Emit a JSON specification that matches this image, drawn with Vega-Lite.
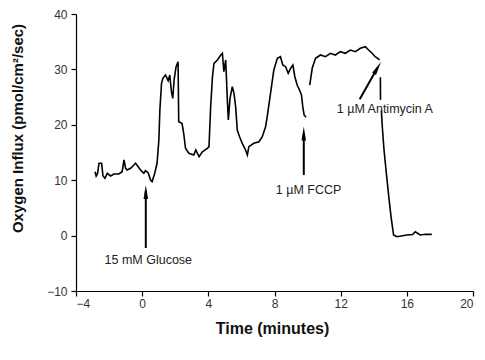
{
  "$schema": "https://vega.github.io/schema/vega-lite/v6.json",
  "width": 397,
  "height": 277,
  "autosize": {"type": "none"},
  "padding": {"left": 76, "top": 14, "right": 12, "bottom": 69},
  "background": "white",
  "config": {
    "view": {"stroke": null},
    "font": "Liberation Sans",
    "axis": {
      "grid": false,
      "domainColor": "#000",
      "domainWidth": 1.2,
      "tickColor": "#000",
      "tickWidth": 1.2,
      "tickSize": 5,
      "labelFont": "Liberation Sans",
      "labelFontSize": 12,
      "labelColor": "#333",
      "titleFont": "Liberation Sans",
      "titleFontWeight": "bold",
      "titleColor": "#111"
    }
  },
  "datasets": {
    "trace": [
      {"t": -2.85, "v": 11.53, "seg": 1},
      {"t": -2.78, "v": 10.76, "seg": 1},
      {"t": -2.70, "v": 11.2, "seg": 1},
      {"t": -2.61, "v": 13.05, "seg": 1},
      {"t": -2.45, "v": 13.05, "seg": 1},
      {"t": -2.37, "v": 10.76, "seg": 1},
      {"t": -2.25, "v": 10.34, "seg": 1},
      {"t": -2.11, "v": 11.25, "seg": 1},
      {"t": -1.91, "v": 10.76, "seg": 1},
      {"t": -1.71, "v": 11.12, "seg": 1},
      {"t": -1.41, "v": 11.12, "seg": 1},
      {"t": -1.21, "v": 11.53, "seg": 1},
      {"t": -1.10, "v": 13.65, "seg": 1},
      {"t": -1.00, "v": 12.15, "seg": 1},
      {"t": -0.91, "v": 11.84, "seg": 1},
      {"t": -0.70, "v": 12.15, "seg": 1},
      {"t": -0.50, "v": 12.74, "seg": 1},
      {"t": -0.40, "v": 13.05, "seg": 1},
      {"t": -0.24, "v": 12.44, "seg": 1},
      {"t": -0.10, "v": 11.84, "seg": 1},
      {"t": 0.10, "v": 11.25, "seg": 1},
      {"t": 0.20, "v": 11.71, "seg": 1},
      {"t": 0.36, "v": 11.35, "seg": 1},
      {"t": 0.51, "v": 10.04, "seg": 1},
      {"t": 0.60, "v": 9.73, "seg": 1},
      {"t": 0.76, "v": 11.25, "seg": 1},
      {"t": 0.90, "v": 13.05, "seg": 1},
      {"t": 1.01, "v": 17.26, "seg": 1},
      {"t": 1.07, "v": 22.67, "seg": 1},
      {"t": 1.17, "v": 27.49, "seg": 1},
      {"t": 1.25, "v": 28.39, "seg": 1},
      {"t": 1.41, "v": 28.99, "seg": 1},
      {"t": 1.57, "v": 27.96, "seg": 1},
      {"t": 1.67, "v": 28.99, "seg": 1},
      {"t": 1.77, "v": 25.97, "seg": 1},
      {"t": 1.85, "v": 24.78, "seg": 1},
      {"t": 1.93, "v": 28.09, "seg": 1},
      {"t": 2.05, "v": 30.49, "seg": 1},
      {"t": 2.17, "v": 31.39, "seg": 1},
      {"t": 2.21, "v": 20.56, "seg": 1},
      {"t": 2.41, "v": 20.27, "seg": 1},
      {"t": 2.51, "v": 18.47, "seg": 1},
      {"t": 2.62, "v": 15.76, "seg": 1},
      {"t": 2.82, "v": 14.86, "seg": 1},
      {"t": 3.12, "v": 14.55, "seg": 1},
      {"t": 3.24, "v": 15.45, "seg": 1},
      {"t": 3.44, "v": 14.24, "seg": 1},
      {"t": 3.64, "v": 15.14, "seg": 1},
      {"t": 3.94, "v": 15.76, "seg": 1},
      {"t": 4.04, "v": 16.05, "seg": 1},
      {"t": 4.14, "v": 23.27, "seg": 1},
      {"t": 4.25, "v": 28.68, "seg": 1},
      {"t": 4.34, "v": 31.10, "seg": 1},
      {"t": 4.55, "v": 31.70, "seg": 1},
      {"t": 4.75, "v": 32.60, "seg": 1},
      {"t": 4.85, "v": 32.91, "seg": 1},
      {"t": 4.94, "v": 29.58, "seg": 1},
      {"t": 5.05, "v": 31.70, "seg": 1},
      {"t": 5.15, "v": 24.48, "seg": 1},
      {"t": 5.21, "v": 20.87, "seg": 1},
      {"t": 5.31, "v": 24.78, "seg": 1},
      {"t": 5.45, "v": 26.88, "seg": 1},
      {"t": 5.55, "v": 25.69, "seg": 1},
      {"t": 5.65, "v": 23.27, "seg": 1},
      {"t": 5.75, "v": 19.06, "seg": 1},
      {"t": 5.89, "v": 17.85, "seg": 1},
      {"t": 6.05, "v": 16.66, "seg": 1},
      {"t": 6.25, "v": 15.45, "seg": 1},
      {"t": 6.36, "v": 14.55, "seg": 1},
      {"t": 6.45, "v": 16.05, "seg": 1},
      {"t": 6.75, "v": 16.66, "seg": 1},
      {"t": 7.06, "v": 16.95, "seg": 1},
      {"t": 7.26, "v": 17.85, "seg": 1},
      {"t": 7.46, "v": 19.66, "seg": 1},
      {"t": 7.56, "v": 21.46, "seg": 1},
      {"t": 7.76, "v": 25.69, "seg": 1},
      {"t": 7.96, "v": 29.89, "seg": 1},
      {"t": 8.17, "v": 32.00, "seg": 1},
      {"t": 8.36, "v": 32.29, "seg": 1},
      {"t": 8.50, "v": 30.79, "seg": 1},
      {"t": 8.67, "v": 30.49, "seg": 1},
      {"t": 8.83, "v": 29.30, "seg": 1},
      {"t": 8.97, "v": 30.20, "seg": 1},
      {"t": 9.11, "v": 30.79, "seg": 1},
      {"t": 9.23, "v": 28.68, "seg": 1},
      {"t": 9.37, "v": 27.18, "seg": 1},
      {"t": 9.51, "v": 26.28, "seg": 1},
      {"t": 9.63, "v": 25.38, "seg": 1},
      {"t": 9.71, "v": 23.27, "seg": 1},
      {"t": 9.79, "v": 21.77, "seg": 1},
      {"t": 9.91, "v": 21.35, "seg": 1},
      {"t": 10.13, "v": 27.18, "seg": 2},
      {"t": 10.28, "v": 30.20, "seg": 2},
      {"t": 10.48, "v": 32.00, "seg": 2},
      {"t": 10.78, "v": 32.60, "seg": 2},
      {"t": 11.08, "v": 32.29, "seg": 2},
      {"t": 11.38, "v": 32.91, "seg": 2},
      {"t": 11.68, "v": 32.60, "seg": 2},
      {"t": 11.98, "v": 33.20, "seg": 2},
      {"t": 12.28, "v": 32.91, "seg": 2},
      {"t": 12.59, "v": 33.50, "seg": 2},
      {"t": 12.89, "v": 33.20, "seg": 2},
      {"t": 13.19, "v": 33.81, "seg": 2},
      {"t": 13.49, "v": 34.10, "seg": 2},
      {"t": 13.69, "v": 33.50, "seg": 2},
      {"t": 13.90, "v": 32.91, "seg": 2},
      {"t": 14.09, "v": 32.29, "seg": 2},
      {"t": 14.35, "v": 31.70, "seg": 2},
      {"t": 14.40, "v": 28.6, "seg": 3},
      {"t": 14.41, "v": 24.5, "seg": 3},
      {"t": 14.46, "v": 22.6, "seg": 4},
      {"t": 14.52, "v": 19.5, "seg": 4},
      {"t": 14.62, "v": 15.5, "seg": 4},
      {"t": 14.77, "v": 11.0, "seg": 4},
      {"t": 14.91, "v": 7.0, "seg": 4},
      {"t": 15.05, "v": 3.3, "seg": 4},
      {"t": 15.20, "v": 0.11, "seg": 4},
      {"t": 15.40, "v": -0.20, "seg": 4},
      {"t": 16.01, "v": 0.11, "seg": 4},
      {"t": 16.35, "v": 0.2, "seg": 4},
      {"t": 16.51, "v": 0.70, "seg": 4},
      {"t": 16.81, "v": 0.11, "seg": 4},
      {"t": 17.15, "v": 0.25, "seg": 4},
      {"t": 17.51, "v": 0.23, "seg": 4}
    ],
    "shafts": [
      {"t": 0.22, "v": -2.24, "t2": 0.22, "v2": 8.0},
      {"t": 9.77, "v": 10.94, "t2": 9.77, "v2": 18.4},
      {"t": 13.15, "v": 24.6, "t2": 14.23, "v2": 30.29}
    ],
    "headsUp": [
      {"t": 0.22, "v": 7.87},
      {"t": 9.77, "v": 18.43}
    ],
    "headsDiag": [
      {"t": 14.23, "v": 30.29}
    ],
    "labels": [
      {"t": 0.37, "v": -4.4, "text": "15 mM Glucose"},
      {"t": 10.06, "v": 8.23, "text": "1 µM FCCP"},
      {"t": 14.67, "v": 22.8, "text": "1 µM Antimycin A"}
    ]
  },
  "layer": [
    {
      "data": {"name": "trace"},
      "mark": {"type": "line", "color": "#000", "strokeWidth": 1.6, "strokeJoin": "miter"},
      "encoding": {
        "x": {
          "field": "t", "type": "quantitative",
          "scale": {"domain": [-4, 20], "nice": false},
          "axis": {
            "values": [-4, -2, 0, 2, 4, 6, 8, 10, 12, 14, 16, 18, 20],
            "labelExpr": "datum.value % 4 === 0 ? datum.label : ''",
            "labelPadding": 2,
            "title": "Time (minutes)",
            "titleFontSize": 16,
            "titleX": 196,
            "titleY": 37,
            "titleBaseline": "middle",
            "titleAlign": "center"
          }
        },
        "y": {
          "field": "v", "type": "quantitative",
          "scale": {"domain": [-10, 40], "nice": false},
          "axis": {
            "values": [-10, -5, 0, 5, 10, 15, 20, 25, 30, 35, 40],
            "labelExpr": "datum.value % 10 === 0 ? datum.label : ''",
            "labelPadding": 4,
            "title": "Oxygen Influx (pmol/cm²/sec)",
            "titleFontSize": 15,
            "titleAngle": -90,
            "titleX": -59,
            "titleY": 114,
            "titleBaseline": "middle",
            "titleAlign": "center"
          }
        },
        "detail": {"field": "seg", "type": "nominal"},
        "order": {"field": "t", "type": "quantitative"}
      }
    },
    {
      "data": {"name": "shafts"},
      "mark": {"type": "rule", "color": "#000", "strokeWidth": 2},
      "encoding": {
        "x": {"field": "t", "type": "quantitative"},
        "y": {"field": "v", "type": "quantitative"},
        "x2": {"field": "t2"},
        "y2": {"field": "v2"}
      }
    },
    {
      "data": {"name": "headsUp"},
      "mark": {"type": "point", "shape": "M0,-1L0.32,1L-0.32,1Z", "filled": true, "color": "#000", "opacity": 1, "size": 196},
      "encoding": {
        "x": {"field": "t", "type": "quantitative"},
        "y": {"field": "v", "type": "quantitative"}
      }
    },
    {
      "data": {"name": "headsDiag"},
      "mark": {"type": "point", "shape": "M0,-1L0.32,1L-0.32,1Z", "filled": true, "color": "#000", "opacity": 1, "size": 196, "angle": 30},
      "encoding": {
        "x": {"field": "t", "type": "quantitative"},
        "y": {"field": "v", "type": "quantitative"}
      }
    },
    {
      "data": {"name": "labels"},
      "mark": {"type": "text", "font": "Liberation Sans", "fontSize": 12.5, "color": "#222", "align": "center", "baseline": "middle"},
      "encoding": {
        "x": {"field": "t", "type": "quantitative"},
        "y": {"field": "v", "type": "quantitative"},
        "text": {"field": "text"}
      }
    }
  ]
}
